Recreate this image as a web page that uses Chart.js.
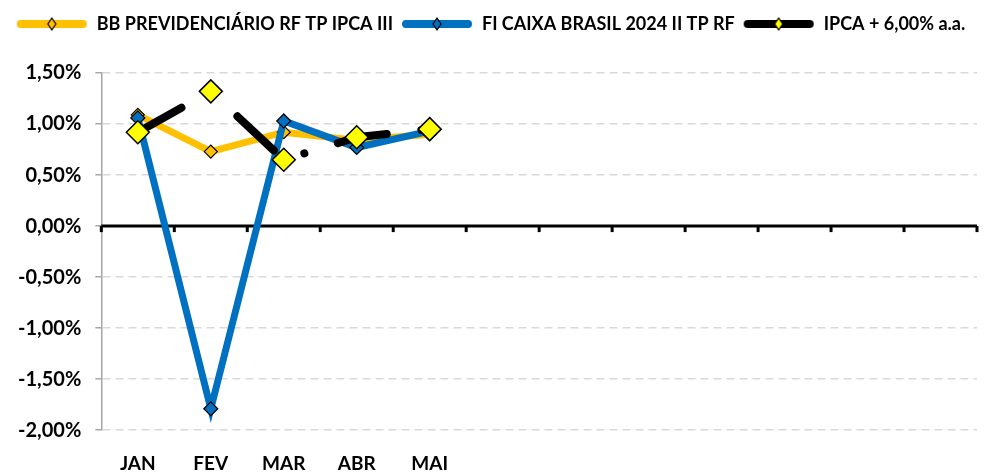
<!DOCTYPE html>
<html>
<head>
<meta charset="utf-8">
<script src="https://cdn.jsdelivr.net/npm/chart.js@4"></script>
<style>
  html, body { margin: 0; padding: 0; background: #fff; }
  #wrap { width: 997px; height: 473px; }
</style>
</head>
<body>
<div id="wrap"><canvas id="grafico-rentabilidade"></canvas></div>
<script>
const meses = ['JAN', 'FEV', 'MAR', 'ABR', 'MAI', '', '', '', '', '', '', ''];
const bbPrevidenciario = [1.09, 0.73, 0.92, 0.84, 0.90];
const fiCaixa = [1.06, -1.79, 1.03, 0.77, 0.93];
const ipcaMeta = [0.92, 1.32, 0.65, 0.87, 0.95];
const yTickValues = [-2, -1.5, -1, -0.5, 0, 0.5, 1, 1.5];
const yTickLabels = ['-2,00%', '-1,50%', '-1,00%', '-0,50%', '0,00%', '0,50%', '1,00%', '1,50%'];

const FONTE = 'Lato, "Open Sans", sans-serif';

// amostra da legenda: linha grossa com o losango no meio
function amostraLegenda(corLinha, corPonto) {
    const c = document.createElement('canvas');
    c.width = 72;
    c.height = 16;
    const g = c.getContext('2d');
    g.strokeStyle = corLinha;
    g.lineWidth = 8;
    g.lineCap = 'round';
    g.beginPath();
    g.moveTo(5, 8);
    g.lineTo(67, 8);
    g.stroke();
    g.fillStyle = corPonto;
    g.strokeStyle = '#000';
    g.lineWidth = 1.2;
    g.beginPath();
    g.moveTo(36, 2);
    g.lineTo(40, 8);
    g.lineTo(36, 14);
    g.lineTo(32, 8);
    g.closePath();
    g.fill();
    g.stroke();
    return c;
}

// linha do zero (eixo das categorias) com as marcas entre os meses
const eixoZero = {
    id: 'eixoZero',
    beforeDatasetsDraw(chart) {
        const { ctx, chartArea, scales: { x, y } } = chart;
        const y0 = y.getPixelForValue(0);
        const passo = (x.right - x.left) / meses.length;
        ctx.save();
        ctx.strokeStyle = '#000';
        ctx.lineWidth = 3;
        ctx.beginPath();
        ctx.moveTo(chartArea.left, y0);
        ctx.lineTo(chartArea.right, y0);
        ctx.stroke();
        ctx.fillStyle = '#000';
        for (let i = 0; i <= meses.length; i++) {
            const px = x.left + i * passo;
            ctx.fillRect(px - 1.5, y0, 3, 6);
        }
        ctx.restore();
    }
};

// espaço extra entre a legenda e a área do gráfico
const espacoLegenda = {
    id: 'espacoLegenda',
    beforeInit(chart) {
        const fitOriginal = chart.legend.fit;
        chart.legend.fit = function () {
            fitOriginal.bind(chart.legend)();
            this.height += 30;
        };
    }
};

document.addEventListener('DOMContentLoaded', function () {
    const ctx = document.getElementById('grafico-rentabilidade').getContext('2d');
    const amostras = [
        amostraLegenda('#FFC000', '#FFC000'),
        amostraLegenda('#0070C0', '#0070C0'),
        amostraLegenda('#000000', '#FFFF00')
    ];

    new Chart(ctx, {
        type: 'line',
        data: {
            labels: meses,
            datasets: [{
                label: 'BB PREVIDENCIÁRIO RF TP IPCA III',
                data: bbPrevidenciario,
                borderColor: '#FFC000',
                backgroundColor: '#FFC000',
                borderWidth: 7,
                pointStyle: 'rectRot',
                pointRadius: 6.5,
                pointBorderColor: '#000',
                pointBorderWidth: 1.2,
                tension: 0,
                order: 3
            }, {
                label: 'FI CAIXA BRASIL 2024 II TP RF',
                data: fiCaixa,
                borderColor: '#0070C0',
                backgroundColor: '#0070C0',
                borderWidth: 7,
                pointStyle: 'rectRot',
                pointRadius: 7,
                pointBorderColor: '#000',
                pointBorderWidth: 1.2,
                tension: 0,
                order: 2
            }, {
                label: 'IPCA + 6,00% a.a.',
                data: ipcaMeta,
                borderColor: '#000000',
                backgroundColor: '#FFFF00',
                borderWidth: 8,
                borderDash: [50, 35, 0.1, 35],
                borderCapStyle: 'round',
                pointStyle: 'rectRot',
                pointRadius: 11.5,
                pointBorderColor: '#000',
                pointBorderWidth: 1.5,
                tension: 0,
                order: 1
            }]
        },
        options: {
            responsive: true,
            maintainAspectRatio: false,
            animation: false,
            layout: {
                padding: { left: 4, right: 20, top: 7, bottom: -24 }
            },
            scales: {
                x: {
                    offset: true,
                    grid: { display: false, drawTicks: false },
                    border: { display: false },
                    ticks: {
                        color: '#000',
                        padding: 22,
                        autoSkip: false,
                        maxRotation: 0,
                        font: { family: FONTE, size: 19, weight: 'bold' }
                    }
                },
                y: {
                    min: -2,
                    max: 1.5,
                    afterBuildTicks: function (scale) {
                        scale.ticks = yTickValues.map(v => ({ value: v }));
                    },
                    grid: {
                        color: c => (c.tick && c.tick.value === 0 ? 'rgba(0,0,0,0)' : '#d9d9d9'),
                        lineWidth: 1.5,
                        tickColor: '#a6a6a6',
                        tickLength: 6
                    },
                    border: { display: true, color: '#a6a6a6', width: 1.5, dash: [8, 5] },
                    ticks: {
                        color: '#000',
                        padding: 14,
                        font: { family: FONTE, size: 20, weight: 'bold' },
                        callback: function (value) {
                            return yTickLabels[yTickValues.indexOf(value)];
                        }
                    }
                }
            },
            plugins: {
                legend: {
                    position: 'top',
                    labels: {
                        color: '#000',
                        usePointStyle: true,
                        pointStyleWidth: 72,
                        padding: 8,
                        font: { family: FONTE, size: 18, weight: 'bold' },
                        sort: (a, b) => a.datasetIndex - b.datasetIndex,
                        generateLabels: function (chart) {
                            const itens = Chart.defaults.plugins.legend.labels.generateLabels(chart);
                            itens.forEach(item => { item.pointStyle = amostras[item.datasetIndex]; });
                            return itens;
                        }
                    }
                },
                tooltip: { enabled: false }
            }
        },
        plugins: [eixoZero, espacoLegenda]
    });
});
</script>
</body>
</html>
